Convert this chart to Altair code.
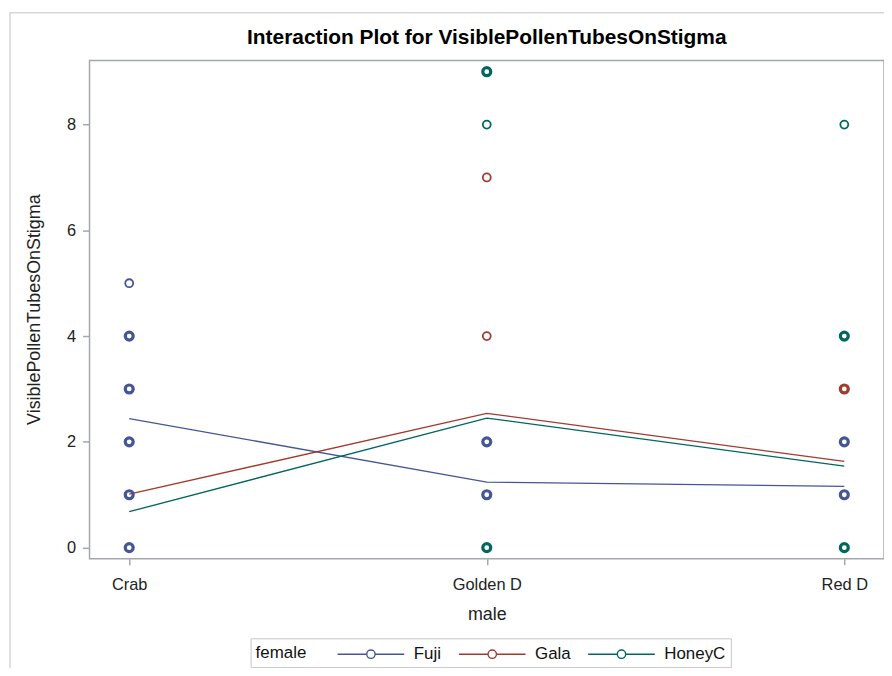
import altair as alt
import pandas as pd

# ---- data ----
males = ["Crab", "Golden D", "Red D"]
females = ["Fuji", "Gala", "HoneyC"]
colors = ["#445694", "#A23A2E", "#01665E"]

# cell means (interaction lines)
mean_fuji = [2.44, 1.24, 1.16]
mean_gala = [1.01, 2.54, 1.63]
mean_honeyc = [0.68, 2.45, 1.54]

# distinct observed values (markers); stacked = 2 where several observations overlap
obs_female = ["Fuji"] * 10 + ["Gala"] * 3 + ["HoneyC"] * 6
obs_male = (["Crab"] * 6 + ["Golden D"] * 2 + ["Red D"] * 2
            + ["Golden D"] * 2 + ["Red D"]
            + ["Golden D"] * 3 + ["Red D"] * 3)
obs_value = ([0, 1, 2, 3, 4, 5, 1, 2, 1, 2]
             + [4, 7, 3]
             + [0, 8, 9, 0, 4, 8])
obs_stacked = ([2, 2, 2, 2, 2, 1, 2, 2, 2, 2]
               + [1, 1, 2]
               + [2, 1, 2, 2, 2, 1])

y_ticks = [0, 2, 4, 6, 8]

# ---- tables ----
means = pd.DataFrame({
    "female": [f for f in females for _ in males],
    "male": males * 3,
    "value": mean_fuji + mean_gala + mean_honeyc,
})
obs = pd.DataFrame({
    "female": obs_female,
    "male": obs_male,
    "value": obs_value,
    "stacked": obs_stacked,
})

FONT = "Liberation Sans"
GRAY = "#a3a8ad"

# line-with-circle legend glyph (unit = 10 px at symbolSize 400)
legend_symbol = ("M-3.35,0L-0.42,0M0.42,0L3.35,0"
                 "M-0.42,0A0.42,0.42 0 1,0 0.42,0A0.42,0.42 0 1,0 -0.42,0Z")

x_enc = alt.X(
    "male:N",
    scale=alt.Scale(type="point", domain=males, padding=0.111),
    axis=alt.Axis(title="male", labelAngle=0, tickSize=6, labelPadding=20,
                  labelBaseline="middle", titleY=56, titleBaseline="middle"),
)
y_enc = alt.Y(
    "value:Q",
    scale=alt.Scale(domain=[-0.21, 9.21], nice=False, zero=False),
    axis=alt.Axis(title="VisiblePollenTubesOnStigma", values=y_ticks,
                  tickSize=7, labelPadding=7, titleX=-55, titleY=250,
                  titleAngle=-90, titleBaseline="middle", titleAlign="center"),
)
color_enc = alt.Color(
    "female:N",
    scale=alt.Scale(domain=females, range=colors),
    legend=alt.Legend(
        title="female", orient="none", legendX=162, legendY=581,
        direction="horizontal", titleOrient="left", titleBaseline="middle",
        symbolType=legend_symbol, symbolSize=400, symbolStrokeWidth=1.4,
        symbolFillColor="transparent",
        labelOffset=32, columnPadding=14, titlePadding=53,
        padding=5, strokeColor="#c6c6c6", fillColor="white",
    ),
)

lines = alt.Chart(means).mark_line(strokeWidth=1.3).encode(
    x=x_enc, y=y_enc, color=color_enc,
)
points = alt.Chart(obs).mark_point(filled=False, size=64, opacity=1).encode(
    x=x_enc, y=y_enc, color=color_enc,
    strokeWidth=alt.StrokeWidth("stacked:Q",
                                scale=alt.Scale(domain=[1, 2], range=[1.8, 3.2]),
                                legend=None),
)

frame = alt.Chart(pd.DataFrame({"a": [0]})).mark_rect(
    fill="transparent", stroke="#d6d6d6", strokeWidth=1.5, clip=False
).encode(
    x=alt.value(-80), x2=alt.value(820), y=alt.value(-48), y2=alt.value(700)
)

chart = alt.layer(frame, lines, points).properties(
    width=799, height=501,
    title=alt.TitleParams(
        "Interaction Plot for VisiblePollenTubesOnStigma",
        fontSize=21, fontWeight="bold", font=FONT, color="#000",
        anchor="middle", frame="group", baseline="alphabetic", offset=-53,
    ),
    autosize=alt.AutoSizeParams(type="none"),
    padding={"left": 82, "top": 51, "right": 0, "bottom": 108},
).configure_view(
    stroke=GRAY, strokeWidth=1.5,
).configure_axis(
    grid=False, domain=False,
    labelFont=FONT, labelFontSize=16.5, labelColor="#222",
    titleFont=FONT, titleFontSize=18, titleFontWeight="normal", titleColor="#222",
    tickColor=GRAY, tickWidth=1.5,
).configure_legend(
    labelFont=FONT, labelFontSize=17, labelColor="#111",
    titleFont=FONT, titleFontSize=17, titleFontWeight="normal", titleColor="#111",
)

chart.save("out.html", embed_options={"renderer": "svg", "actions": False})
